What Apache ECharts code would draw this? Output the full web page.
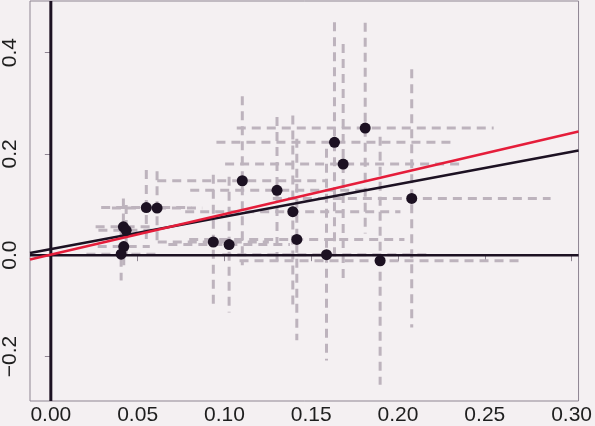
<!DOCTYPE html>
<html>
<head>
<meta charset="utf-8">
<script src="https://cdn.jsdelivr.net/npm/echarts@6/dist/echarts.min.js"></script>
<style>
  html, body { margin: 0; padding: 0; background: #f4f0f2; }
  #main { width: 595px; height: 426px; }
</style>
</head>
<body>
<div id="main"></div>
<script>
// estimates and their uncertainties
var ptX = [0.0550, 0.0612, 0.0418, 0.0434, 0.0420, 0.0405, 0.1103, 0.1303, 0.1394,
           0.0936, 0.1027, 0.1417, 0.1811, 0.1634, 0.1684, 0.2079, 0.1588, 0.1897];
var ptY = [0.094, 0.093, 0.056, 0.049, 0.017, 0.002, 0.147, 0.128, 0.086,
           0.026, 0.021, 0.031, 0.251, 0.223, 0.180, 0.112, 0.001, -0.011];
var xErr = [0.026, 0.026, 0.016, 0.016, 0.015, 0.020, 0.049, 0.050, 0.062,
            0.032, 0.035, 0.062, 0.074, 0.068, 0.068, 0.080, 0.060, 0.081];
var yErr = [0.074, 0.073, 0.056, 0.050, 0.040, 0.052, 0.167, 0.145, 0.190,
            0.133, 0.134, 0.199, 0.208, 0.237, 0.237, 0.255, 0.209, 0.245];

// fitted lines: intercept, slope
var fitBlack = [0.012, 0.64];
var fitRed = [0.001, 0.80];

var xTicks = [0, 0.05, 0.10, 0.15, 0.20, 0.25, 0.30];
var yTicks = [-0.2, 0, 0.2, 0.4];
var xMin = -0.012, xMax = 0.304;
var yMin = -0.288, yMax = 0.502;

var ink = '#1c1122';
var barColor = '#bdb3bd';

var chart = echarts.init(document.getElementById('main'));

var errData = ptX.map(function (x, i) { return [x, ptY[i], xErr[i], yErr[i]]; });
var dots = ptX.map(function (x, i) { return [x, ptY[i]]; });
function fitLine(f) {
  return [[xMin, f[0] + f[1] * xMin], [xMax, f[0] + f[1] * xMax]];
}

var option = {
  backgroundColor: '#f4f0f2',
  animation: false,
  grid: {
    left: 27, right: 15, top: 1, bottom: 22,
    show: true, borderColor: '#8e8592', borderWidth: 1, backgroundColor: '#f4f0f2'
  },
  xAxis: {
    type: 'value', min: xMin, max: xMax,
    axisLine: { show: false },
    splitLine: { show: false },
    axisTick: { show: true, customValues: xTicks, length: 6, lineStyle: { color: '#8e8592' } },
    axisLabel: {
      customValues: xTicks, margin: 4, fontSize: 21, color: '#1e1e1e',
      fontFamily: 'Liberation Sans',
      formatter: function (v) { return v.toFixed(2); }
    }
  },
  yAxis: {
    type: 'value', min: yMin, max: yMax,
    axisLine: { show: false },
    splitLine: { show: false },
    axisTick: { show: true, customValues: yTicks, length: 6, lineStyle: { color: '#8e8592' } },
    axisLabel: {
      customValues: yTicks, rotate: 90, margin: 9, fontSize: 21, color: '#1e1e1e',
      fontFamily: 'Liberation Sans',
      formatter: function (v) { return v.toFixed(1).replace('-', '\u2212'); }
    }
  },
  series: [
    {
      type: 'custom',
      z: 1,
      clip: true,
      encode: { x: 0, y: 1 },
      data: errData,
      renderItem: function (params, api) {
        var x = api.value(0), y = api.value(1), ex = api.value(2), ey = api.value(3);
        var l = api.coord([x - ex, y]), r = api.coord([x + ex, y]);
        var t = api.coord([x, y + ey]), b = api.coord([x, y - ey]);
        var st = { stroke: barColor, lineWidth: 3, lineDash: [9, 6], fill: null };
        return {
          type: 'group',
          children: [
            { type: 'line', shape: { x1: l[0], y1: l[1], x2: r[0], y2: r[1] }, style: st },
            { type: 'line', shape: { x1: t[0], y1: t[1], x2: b[0], y2: b[1] }, style: st }
          ]
        };
      }
    },
    {
      type: 'line', z: 2, symbol: 'none', silent: true,
      lineStyle: { color: ink, width: 2.5 },
      data: [[xMin, 0], [xMax, 0]]
    },
    {
      type: 'line', z: 2, symbol: 'none', silent: true,
      lineStyle: { color: ink, width: 3 },
      data: [[0, yMin], [0, yMax]]
    },
    {
      type: 'line', z: 3, symbol: 'none', silent: true,
      lineStyle: { color: ink, width: 2.5 },
      data: fitLine(fitBlack)
    },
    {
      type: 'line', z: 4, symbol: 'none', silent: true,
      lineStyle: { color: '#e51d3a', width: 2.5 },
      data: fitLine(fitRed)
    },
    {
      type: 'scatter', z: 5, symbolSize: 11,
      itemStyle: { color: ink, opacity: 1 },
      data: dots
    }
  ]
};
chart.setOption(option);
</script>
</body>
</html>
